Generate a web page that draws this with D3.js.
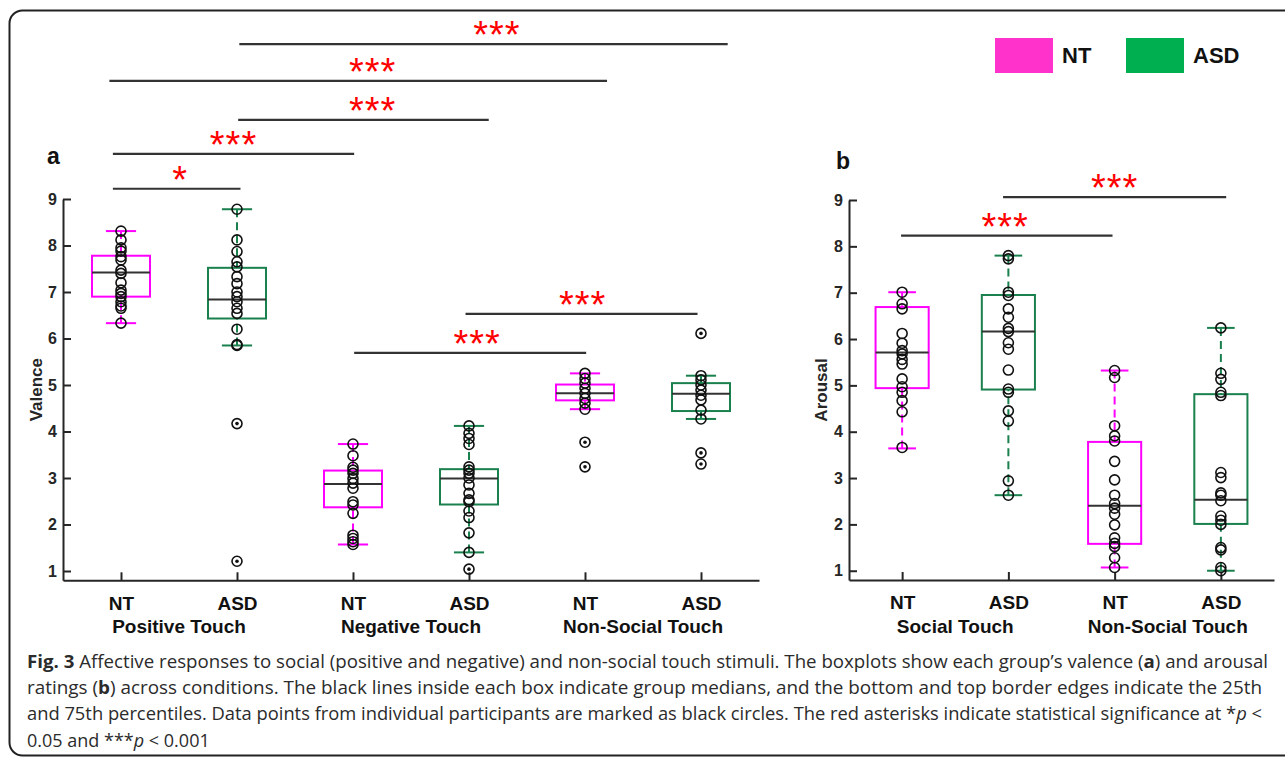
<!DOCTYPE html>
<html>
<head>
<meta charset="utf-8">
<script src="https://cdn.jsdelivr.net/npm/d3@7"></script>
<style>
  body { margin: 0; background: #fff; }
  svg { display: block; font-family: "Liberation Sans", Arial, sans-serif; }
</style>
</head>
<body>
<svg id="fig" width="1285" height="761"></svg>
<script>
// groups and conditions
var groups = ["NT", "ASD"];
var valenceConditions = ["Positive Touch", "Negative Touch", "Non-Social Touch"];
var arousalConditions = ["Social Touch", "Non-Social Touch"];

// valence box stats (NT, ASD for each condition)
var valenceQ1 = [6.90, 6.43, 2.37, 2.43, 4.67, 4.44];
var valenceMedian = [7.42, 6.84, 2.87, 2.99, 4.82, 4.81];
var valenceQ3 = [7.78, 7.52, 3.16, 3.19, 5.01, 5.04];
var valenceLow = [6.33, 5.85, 1.57, 1.40, 4.48, 4.27];
var valenceHigh = [8.31, 8.78, 3.73, 4.12, 5.25, 5.20];
var valencePoints = [
  [8.31, 8.12, 7.95, 7.88, 7.76, 7.69, 7.47, 7.40, 7.20, 7.04, 6.97, 6.90, 6.79, 6.70, 6.65, 6.33],
  [8.78, 8.12, 7.87, 7.65, 7.54, 7.33, 7.18, 7.00, 6.90, 6.79, 6.65, 6.54, 6.20, 5.87, 5.85, 4.17, 1.21],
  [3.73, 3.48, 3.23, 3.17, 3.10, 2.99, 2.89, 2.78, 2.49, 2.42, 2.24, 1.77, 1.70, 1.63, 1.57],
  [4.12, 3.96, 3.85, 3.72, 3.24, 3.17, 3.10, 3.00, 2.85, 2.67, 2.53, 2.49, 2.29, 2.15, 1.82, 1.40, 1.04],
  [5.25, 5.14, 5.04, 4.93, 4.82, 4.71, 4.61, 4.48, 3.77, 3.24],
  [6.11, 5.20, 5.11, 5.00, 4.89, 4.78, 4.68, 4.46, 4.27, 3.54, 3.30]
];

// arousal box stats
var arousalQ1 = [4.94, 4.91, 1.58, 2.01];
var arousalMedian = [5.71, 6.16, 2.40, 2.53];
var arousalQ3 = [6.69, 6.95, 3.78, 4.81];
var arousalLow = [3.64, 2.63, 1.07, 1.00];
var arousalHigh = [7.01, 7.80, 5.32, 6.24];
var arousalPoints = [
  [7.01, 6.76, 6.65, 6.12, 5.91, 5.75, 5.68, 5.56, 5.46, 5.14, 4.97, 4.85, 4.67, 4.43, 3.66],
  [7.80, 7.73, 7.01, 6.94, 6.65, 6.47, 6.23, 6.16, 5.92, 5.78, 5.33, 4.92, 4.85, 4.45, 4.23, 2.94, 2.63],
  [5.32, 5.17, 4.13, 3.91, 3.80, 3.36, 2.96, 2.63, 2.45, 2.35, 2.22, 1.99, 1.71, 1.59, 1.52, 1.28, 1.07],
  [6.24, 5.26, 5.13, 4.85, 4.78, 3.12, 3.01, 2.68, 2.63, 2.51, 2.18, 2.09, 2.00, 1.50, 1.45, 1.07, 1.00]
];

// significance bars (group units / rating units)
var valenceSigFrom = [2.02, 0.90, 2.01, 0.93, 0.93, 3.01, 3.97];
var valenceSigTo = [6.23, 5.19, 4.17, 3.01, 2.03, 5.01, 5.97];
var valenceSigLevel = [12.33, 11.54, 10.70, 9.97, 9.22, 5.69, 6.53];
var valenceSigStarX = [4.24, 3.17, 3.17, 1.97, 1.51, 4.07, 4.98];
var valenceSigLabel = ["***", "***", "***", "***", "*", "***", "***"];

var arousalSigFrom = [0.99, 1.95];
var arousalSigTo = [2.98, 4.05];
var arousalSigLevel = [8.23, 9.06];
var arousalSigStarX = [1.97, 3.00];
var arousalSigLabel = ["***", "***"];

var boxColors = ["#ff00ff", "#1a804d"];
var legendColors = ["#ff33cc", "#00b050"];

var svg = d3.select("#fig");

// rounded frame
svg.append("rect")
  .attr("x", 9.5).attr("y", 10.5)
  .attr("width", 1300).attr("height", 745)
  .attr("rx", 13)
  .attr("fill", "none").attr("stroke", "#222").attr("stroke-width", 2);

function drawPanel(cfg) {
  var n = cfg.q1.length;
  var x = d3.scaleLinear().domain([0.5, n + 0.5]).range(cfg.xRange);
  var y = d3.scaleLinear().domain([0.8, 9]).range(cfg.yRange);
  var g = svg.append("g");

  // y axis
  var ya = g.append("g")
    .attr("transform", "translate(" + cfg.xRange[0] + ",0)")
    .call(d3.axisLeft(y).tickValues(d3.range(1, 10)).tickSize(-8).tickSizeOuter(0).tickPadding(6));
  // x axis
  var xa = g.append("g")
    .attr("transform", "translate(0," + cfg.yRange[0] + ")")
    .call(d3.axisBottom(x).tickValues(d3.range(1, n + 1))
      .tickFormat(function (d) { return groups[(d - 1) % 2]; })
      .tickSize(-8).tickSizeOuter(0).tickPadding(16));
  [ya, xa].forEach(function (a) {
    a.select(".domain").attr("stroke", "#262626").attr("stroke-width", 2);
    a.selectAll(".tick line").attr("stroke", "#262626").attr("stroke-width", 2);
  });
  ya.selectAll("text").attr("font-size", 16).attr("font-weight", "bold").attr("fill", "#262626");
  xa.selectAll("text").attr("font-size", 19).attr("font-weight", "bold").attr("fill", "#111");

  // condition labels
  g.selectAll(".cond").data(cfg.conditions).enter().append("text")
    .attr("x", function (d, i) { return x(2 * i + 1.5); })
    .attr("y", 633)
    .attr("text-anchor", "middle")
    .attr("font-size", 19).attr("font-weight", "bold").attr("fill", "#111")
    .text(function (d) { return d; });

  // axis title
  g.append("text")
    .attr("transform", "translate(" + cfg.titleX + "," + y(4.9) + ")rotate(-90)")
    .attr("text-anchor", "middle")
    .attr("font-size", 17).attr("font-weight", "bold").attr("fill", "#262626")
    .text(cfg.title);

  // panel letter
  g.append("text").attr("x", cfg.letterX).attr("y", cfg.letterY)
    .attr("font-size", 23).attr("font-weight", "bold").attr("fill", "#111")
    .text(cfg.letter);

  // boxes
  for (var i = 0; i < n; i++) {
    var xi = i + 1, col = boxColors[i % 2];
    var bg = g.append("g");
    bg.append("line").attr("x1", x(xi)).attr("x2", x(xi))
      .attr("y1", y(cfg.low[i])).attr("y2", y(cfg.q1[i]))
      .attr("stroke", col).attr("stroke-width", 2).attr("stroke-dasharray", "8,5");
    bg.append("line").attr("x1", x(xi)).attr("x2", x(xi))
      .attr("y1", y(cfg.high[i])).attr("y2", y(cfg.q3[i]))
      .attr("stroke", col).attr("stroke-width", 2).attr("stroke-dasharray", "8,5");
    [cfg.low[i], cfg.high[i]].forEach(function (v) {
      bg.append("line").attr("x1", x(xi - 0.13)).attr("x2", x(xi + 0.13))
        .attr("y1", y(v)).attr("y2", y(v))
        .attr("stroke", col).attr("stroke-width", 2);
    });
    bg.append("rect")
      .attr("x", x(xi - 0.25)).attr("width", x(xi + 0.25) - x(xi - 0.25))
      .attr("y", y(cfg.q3[i])).attr("height", y(cfg.q1[i]) - y(cfg.q3[i]))
      .attr("fill", "none").attr("stroke", col).attr("stroke-width", 2);
    bg.append("line").attr("x1", x(xi - 0.25)).attr("x2", x(xi + 0.25))
      .attr("y1", y(cfg.median[i])).attr("y2", y(cfg.median[i]))
      .attr("stroke", "#333").attr("stroke-width", 2);

    var lo = cfg.low[i], hi = cfg.high[i];
    bg.selectAll("circle.pt").data(cfg.points[i]).enter().append("circle")
      .attr("class", "pt")
      .attr("cx", x(xi)).attr("cy", function (d) { return y(d); })
      .attr("r", 5).attr("fill", "none").attr("stroke", "#111").attr("stroke-width", 1.6);
    bg.selectAll("circle.out")
      .data(cfg.points[i].filter(function (d) { return d < lo - 0.03 || d > hi + 0.03; }))
      .enter().append("circle")
      .attr("class", "out")
      .attr("cx", x(xi)).attr("cy", function (d) { return y(d); })
      .attr("r", 1.8).attr("fill", "#111");
  }

  // significance bars
  cfg.sigFrom.forEach(function (f, k) {
    g.append("line")
      .attr("x1", x(f)).attr("x2", x(cfg.sigTo[k]))
      .attr("y1", y(cfg.sigLevel[k])).attr("y2", y(cfg.sigLevel[k]))
      .attr("stroke", "#333").attr("stroke-width", 2.2);
    g.append("text")
      .attr("x", x(cfg.sigStarX[k])).attr("y", y(cfg.sigLevel[k]) + 4)
      .attr("text-anchor", "middle")
      .attr("font-size", 38).attr("letter-spacing", 1).attr("fill", "#ff0000")
      .text(cfg.sigLabel[k]);
  });
}

drawPanel({
  xRange: [63, 759], yRange: [580.3, 199],
  conditions: valenceConditions,
  q1: valenceQ1, median: valenceMedian, q3: valenceQ3, low: valenceLow, high: valenceHigh,
  points: valencePoints,
  sigFrom: valenceSigFrom, sigTo: valenceSigTo, sigLevel: valenceSigLevel,
  sigStarX: valenceSigStarX, sigLabel: valenceSigLabel,
  title: "Valence", titleX: 42, letter: "a", letterX: 47, letterY: 164
});

drawPanel({
  xRange: [849, 1274], yRange: [580, 200],
  conditions: arousalConditions,
  q1: arousalQ1, median: arousalMedian, q3: arousalQ3, low: arousalLow, high: arousalHigh,
  points: arousalPoints,
  sigFrom: arousalSigFrom, sigTo: arousalSigTo, sigLevel: arousalSigLevel,
  sigStarX: arousalSigStarX, sigLabel: arousalSigLabel,
  title: "Arousal", titleX: 827, letter: "b", letterX: 836, letterY: 169
});

// legend
var leg = svg.append("g");
groups.forEach(function (gname, i) {
  var lx = [995, 1126][i];
  leg.append("rect").attr("x", lx).attr("y", 38).attr("width", 58).attr("height", 35)
    .attr("fill", legendColors[i]);
  leg.append("text").attr("x", lx + 67).attr("y", 63)
    .attr("font-size", 22).attr("font-weight", "bold").attr("fill", "#111")
    .text(gname);
});

// caption
var capLines = [
  [["Fig. 3", "bold"], [" Affective responses to social (positive and negative) and non-social touch stimuli. The boxplots show each group\u2019s valence (", ""], ["a", "bold"], [") and arousal", ""]],
  [["ratings (", ""], ["b", "bold"], [") across conditions. The black lines inside each box indicate group medians, and the bottom and top border edges indicate the 25th", ""]],
  [["and 75th percentiles. Data points from individual participants are marked as black circles. The red asterisks indicate statistical significance at *", ""], ["p", "italic"], [" <", ""]],
  [["0.05 and ***", ""], ["p", "italic"], [" < 0.001", ""]]
];
var capWidths = [1241, 1235, 1235, null];
capLines.forEach(function (line, i) {
  var t = svg.append("text")
    .attr("x", 27).attr("y", 668 + i * 26.2)
    .attr("font-family", "'Open Sans', 'Noto Sans', sans-serif")
    .attr("font-size", 18).attr("fill", "#2b2b2b");
  if (capWidths[i]) t.attr("textLength", capWidths[i]).attr("lengthAdjust", "spacingAndGlyphs");
  line.forEach(function (seg) {
    var s = t.append("tspan").text(seg[0]);
    if (seg[1] === "bold") s.attr("font-weight", "bold");
    if (seg[1] === "italic") s.attr("font-style", "italic");
  });
});
</script>
</body>
</html>
